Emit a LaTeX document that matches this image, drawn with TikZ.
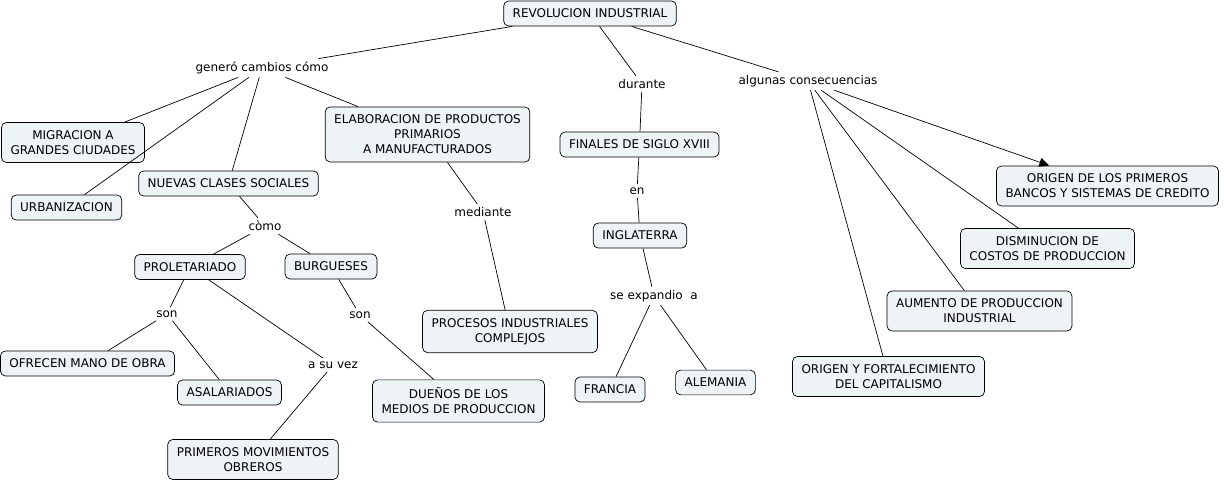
\documentclass[tikz,border=0pt]{standalone}
\usepackage{fontspec}
\setmainfont{DejaVu Sans}
\usetikzlibrary{arrows.meta}
\definecolor{boxfill}{RGB}{238,243,245}

\begin{document}
\begin{tikzpicture}[x=1pt, y=-1pt, line width=0.7pt,
  main/.style = {draw, rounded corners=5pt, fill=boxfill, align=center, inner xsep=9pt, inner ysep=8pt, font=\fontsize{12}{15}\selectfont},
  lab/.style = {inner sep=3pt, font=\fontsize{12}{15}\selectfont}]
\useasboundingbox (0,0) rectangle (1224,481);
\node[main] (rev) at (590,13.5) {REVOLUCION INDUSTRIAL};
\node[lab] (gen) at (262,68) {generó cambios cómo};
\node[lab] (dur) at (642,84) {durante};
\node[lab] (alg) at (808,81) {algunas consecuencias};
\node[main] (mig) at (73,142.5) {MIGRACION A\\GRANDES CIUDADES};
\node[main] (urb) at (66.5,207.5) {URBANIZACION};
\node[main] (nue) at (228.5,183.5) {NUEVAS CLASES SOCIALES};
\node[main] (ela) at (427.5,134.5) {ELABORACION DE PRODUCTOS\\PRIMARIOS\\A MANUFACTURADOS};
\node[lab] (como) at (265,226) {còmo};
\node[main] (pro) at (190,267) {PROLETARIADO};
\node[main] (bur) at (331,266.5) {BURGUESES};
\node[lab] (son1) at (167,314) {son};
\node[lab] (son2) at (360,315) {son};
\node[lab] (vez) at (333,365) {a su vez};
\node[main] (ofr) at (87.5,363.5) {OFRECEN MANO DE OBRA};
\node[main] (asa) at (229.5,392.5) {ASALARIADOS};
\node[main] (pri) at (253,459.5) {PRIMEROS MOVIMIENTOS\\OBREROS};
\node[main] (due) at (458.5,401) {DUEÑOS DE LOS\\MEDIOS DE PRODUCCION};
\node[lab] (med) at (483,212) {mediante};
\node[main] (proc) at (510,331.5) {PROCESOS INDUSTRIALES\\COMPLEJOS};
\node[main] (fin) at (639.5,144.5) {FINALES DE SIGLO XVIII};
\node[lab] (en) at (637,191) {en};
\node[main] (ing) at (640,235.5) {INGLATERRA};
\node[lab] (exp) at (654,296) {se expandio~ a};
\node[main] (fra) at (610,389.5) {FRANCIA};
\node[main] (ale) at (715.5,382.5) {ALEMANIA};
\node[main] (cap) at (888.5,376.5) {ORIGEN Y FORTALECIMIENTO\\DEL CAPITALISMO};
\node[main] (aum) at (979.5,311) {AUMENTO DE PRODUCCION\\INDUSTRIAL};
\node[main] (dis) at (1047.5,248.5) {DISMINUCION DE\\COSTOS DE PRODUCCION};
\node[main] (ban) at (1107.5,186) {ORIGEN DE LOS PRIMEROS\\BANCOS Y SISTEMAS DE CREDITO};
\draw[-] (rev) -- (gen);
\draw[-] (gen) -- (mig);
\draw[-] (gen) -- (urb);
\draw[-] (gen) -- (nue);
\draw[-] (gen) -- (ela);
\draw[-] (nue) -- (como);
\draw[-] (como) -- (pro);
\draw[-] (como) -- (bur);
\draw[-] (pro) -- (son1);
\draw[-] (son1) -- (ofr);
\draw[-] (son1) -- (asa);
\draw[-] (pro) -- (vez);
\draw[-] (vez) -- (pri);
\draw[-] (bur) -- (son2);
\draw[-] (son2) -- (due);
\draw[-] (ela) -- (med);
\draw[-] (med) -- (proc);
\draw[-] (rev) -- (dur);
\draw[-] (dur) -- (fin);
\draw[-] (fin) -- (en);
\draw[-] (en) -- (ing);
\draw[-] (ing) -- (exp);
\draw[-] (exp) -- (fra);
\draw[-] (exp) -- (ale);
\draw[-] (rev) -- (alg);
\draw[-] (alg) -- (cap);
\draw[-] (alg) -- (aum);
\draw[-] (alg) -- (dis);
\draw[-{Triangle[length=10pt, width=9pt]}] (alg) -- (ban);
\end{tikzpicture}
\end{document}
